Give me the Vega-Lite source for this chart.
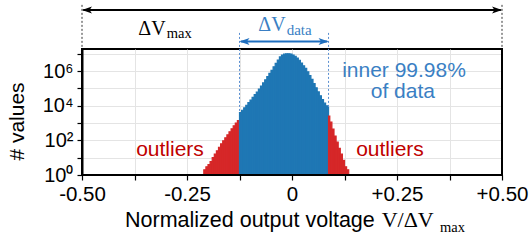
{
  "$schema": "https://vega.github.io/schema/vega-lite/v6.json",
  "width": 420,
  "height": 126,
  "autosize": {"type": "none"},
  "padding": {"left": 82, "top": 49, "right": 28, "bottom": 66},
  "config": {
    "view": {"stroke": "black", "strokeWidth": 2},
    "font": "Liberation Sans"
  },
  "resolve": {"axis": {"x": "independent", "y": "independent"}},
  "layer": [
    {
      "data": {"values": [
        {"lo": -0.210, "hi": -0.205, "n": 2, "part": "outlier"},
        {"lo": -0.205, "hi": -0.200, "n": 3, "part": "outlier"},
        {"lo": -0.200, "hi": -0.195, "n": 4, "part": "outlier"},
        {"lo": -0.195, "hi": -0.190, "n": 6, "part": "outlier"},
        {"lo": -0.190, "hi": -0.185, "n": 10, "part": "outlier"},
        {"lo": -0.185, "hi": -0.180, "n": 16, "part": "outlier"},
        {"lo": -0.180, "hi": -0.175, "n": 25, "part": "outlier"},
        {"lo": -0.175, "hi": -0.170, "n": 40, "part": "outlier"},
        {"lo": -0.170, "hi": -0.165, "n": 63, "part": "outlier"},
        {"lo": -0.165, "hi": -0.160, "n": 95, "part": "outlier"},
        {"lo": -0.160, "hi": -0.155, "n": 141, "part": "outlier"},
        {"lo": -0.155, "hi": -0.150, "n": 209, "part": "outlier"},
        {"lo": -0.150, "hi": -0.145, "n": 316, "part": "outlier"},
        {"lo": -0.145, "hi": -0.140, "n": 468, "part": "outlier"},
        {"lo": -0.140, "hi": -0.135, "n": 692, "part": "outlier"},
        {"lo": -0.135, "hi": -0.130, "n": 1000, "part": "outlier"},
        {"lo": -0.130, "hi": -0.125, "n": 1413, "part": "outlier"},
        {"lo": -0.125, "hi": -0.120, "n": 3981, "part": "inner"},
        {"lo": -0.120, "hi": -0.115, "n": 5495, "part": "inner"},
        {"lo": -0.115, "hi": -0.110, "n": 7586, "part": "inner"},
        {"lo": -0.110, "hi": -0.105, "n": 10715, "part": "inner"},
        {"lo": -0.105, "hi": -0.100, "n": 15136, "part": "inner"},
        {"lo": -0.100, "hi": -0.095, "n": 21380, "part": "inner"},
        {"lo": -0.095, "hi": -0.090, "n": 30903, "part": "inner"},
        {"lo": -0.090, "hi": -0.085, "n": 43652, "part": "inner"},
        {"lo": -0.085, "hi": -0.080, "n": 61660, "part": "inner"},
        {"lo": -0.080, "hi": -0.075, "n": 91201, "part": "inner"},
        {"lo": -0.075, "hi": -0.070, "n": 138038, "part": "inner"},
        {"lo": -0.070, "hi": -0.065, "n": 208930, "part": "inner"},
        {"lo": -0.065, "hi": -0.060, "n": 316228, "part": "inner"},
        {"lo": -0.060, "hi": -0.055, "n": 478630, "part": "inner"},
        {"lo": -0.055, "hi": -0.050, "n": 741310, "part": "inner"},
        {"lo": -0.050, "hi": -0.045, "n": 1122018, "part": "inner"},
        {"lo": -0.045, "hi": -0.040, "n": 1778279, "part": "inner"},
        {"lo": -0.040, "hi": -0.035, "n": 2818383, "part": "inner"},
        {"lo": -0.035, "hi": -0.030, "n": 4365158, "part": "inner"},
        {"lo": -0.030, "hi": -0.025, "n": 6606934, "part": "inner"},
        {"lo": -0.025, "hi": -0.020, "n": 8511380, "part": "inner"},
        {"lo": -0.020, "hi": -0.015, "n": 9549926, "part": "inner"},
        {"lo": -0.015, "hi": -0.010, "n": 10000000, "part": "inner"},
        {"lo": -0.010, "hi": -0.005, "n": 10000000, "part": "inner"},
        {"lo": -0.005, "hi": 0.000, "n": 9549926, "part": "inner"},
        {"lo": 0.000, "hi": 0.005, "n": 8511380, "part": "inner"},
        {"lo": 0.005, "hi": 0.010, "n": 7244360, "part": "inner"},
        {"lo": 0.010, "hi": 0.015, "n": 5754399, "part": "inner"},
        {"lo": 0.015, "hi": 0.020, "n": 4265795, "part": "inner"},
        {"lo": 0.020, "hi": 0.025, "n": 2951209, "part": "inner"},
        {"lo": 0.025, "hi": 0.030, "n": 2041738, "part": "inner"},
        {"lo": 0.030, "hi": 0.035, "n": 1445440, "part": "inner"},
        {"lo": 0.035, "hi": 0.040, "n": 912011, "part": "inner"},
        {"lo": 0.040, "hi": 0.045, "n": 562341, "part": "inner"},
        {"lo": 0.045, "hi": 0.050, "n": 338844, "part": "inner"},
        {"lo": 0.050, "hi": 0.055, "n": 190546, "part": "inner"},
        {"lo": 0.055, "hi": 0.060, "n": 109648, "part": "inner"},
        {"lo": 0.060, "hi": 0.065, "n": 63096, "part": "inner"},
        {"lo": 0.065, "hi": 0.070, "n": 38019, "part": "inner"},
        {"lo": 0.070, "hi": 0.075, "n": 22387, "part": "inner"},
        {"lo": 0.075, "hi": 0.080, "n": 14125, "part": "inner"},
        {"lo": 0.080, "hi": 0.085, "n": 10000, "part": "inner"},
        {"lo": 0.085, "hi": 0.087, "n": 7943, "part": "inner"},
        {"lo": 0.087, "hi": 0.090, "n": 2512, "part": "outlier"},
        {"lo": 0.090, "hi": 0.095, "n": 1122, "part": "outlier"},
        {"lo": 0.095, "hi": 0.100, "n": 447, "part": "outlier"},
        {"lo": 0.100, "hi": 0.105, "n": 178, "part": "outlier"},
        {"lo": 0.105, "hi": 0.110, "n": 79, "part": "outlier"},
        {"lo": 0.110, "hi": 0.115, "n": 35, "part": "outlier"},
        {"lo": 0.115, "hi": 0.120, "n": 16, "part": "outlier"},
        {"lo": 0.120, "hi": 0.125, "n": 7, "part": "outlier"},
        {"lo": 0.125, "hi": 0.130, "n": 3, "part": "outlier"},
        {"lo": 0.130, "hi": 0.135, "n": 2, "part": "outlier"}
      ]},
      "mark": {"type": "bar", "strokeWidth": 1.2},
      "encoding": {
        "x": {
          "field": "lo", "type": "quantitative",
          "scale": {"type": "linear", "domain": [-0.5, 0.5], "nice": false, "zero": false},
          "axis": {
            "orient": "bottom",
            "values": [-0.5, -0.375, -0.25, -0.125, 0, 0.125, 0.25, 0.375, 0.5],
            "labelExpr": "abs((datum.value * 8) % 2) > 0.5 ? '' : (datum.value == 0 ? '0' : (datum.value > 0 ? '+' + format(datum.value, '.2f') : '-' + format(-datum.value, '.2f')))",
            "title": null,
            "grid": true, "gridColor": "#e4e4e4", "gridWidth": 1,
            "gridOpacity": {"condition": {"test": "abs(datum.value) > 0.49", "value": 0}, "value": 1},
            "domain": false,
            "ticks": true, "tickColor": "black", "tickSize": 5, "tickWidth": 1.2,
            "labelFont": "Liberation Sans", "labelFontSize": 20.5, "labelColor": "black", "labelPadding": 4,
            "labelFlush": false, "labelOverlap": false
          }
        },
        "x2": {"field": "hi"},
        "y": {
          "field": "n", "type": "quantitative",
          "scale": {"type": "log", "domain": [1, 19054607], "nice": false},
          "axis": {
            "orient": "left",
            "values": [1, 10, 100, 1000, 10000, 100000, 1000000, 10000000],
            "labelExpr": "datum.value == 1 ? '10⁰' : datum.value == 100 ? '10²' : datum.value == 10000 ? '10⁴' : datum.value == 1000000 ? '10⁶' : ''",
            "title": "# values",
            "titleFont": "Liberation Sans", "titleFontSize": 21, "titleFontWeight": "normal", "titleColor": "black", "titlePadding": 15,
            "titleY": 72,
            "grid": true, "gridColor": "#e4e4e4", "gridWidth": 1,
            "gridOpacity": {"condition": {"test": "datum.value < 2", "value": 0}, "value": 1},
            "domain": true, "domainColor": "black", "domainWidth": 2,
            "ticks": true, "tickColor": "black", "tickSize": 5, "tickWidth": 1.2,
            "labelFont": "Liberation Sans", "labelFontSize": 20, "labelColor": "black", "labelPadding": 4,
            "labelFlush": false, "labelOverlap": false
          }
        },
        "y2": {"datum": 1},
        "color": {"field": "part", "type": "nominal", "scale": {"domain": ["inner", "outlier"], "range": ["#1f77b4", "#d62728"]}, "legend": null},
        "stroke": {"field": "part", "type": "nominal", "scale": {"domain": ["inner", "outlier"], "range": ["#1f77b4", "#d62728"]}, "legend": null}
      }
    },
    {
      "data": {"values": [{}]},
      "mark": {"type": "rule", "color": "#5b8fd0", "strokeWidth": 1, "strokeDash": [2, 2]},
      "encoding": {
        "x": {"datum": -0.125, "type": "quantitative", "axis": null},
        "y": {"datum": 162000000, "type": "quantitative", "axis": null},
        "y2": {"datum": 3981}
      }
    },
    {
      "data": {"values": [{}]},
      "mark": {"type": "rule", "color": "#5b8fd0", "strokeWidth": 1, "strokeDash": [2, 2]},
      "encoding": {
        "x": {"datum": 0.087, "type": "quantitative", "axis": null},
        "y": {"datum": 162000000, "type": "quantitative", "axis": null},
        "y2": {"datum": 7943}
      }
    },
    {
      "data": {"values": [{}]},
      "mark": {"type": "rule", "color": "black", "strokeWidth": 2},
      "encoding": {
        "x": {"datum": -0.5, "type": "quantitative", "axis": null},
        "x2": {"datum": 0.5},
        "y": {"datum": 1, "type": "quantitative", "axis": null}
      }
    },
    {
      "data": {"values": [{}]},
      "mark": {"type": "rule", "color": "black", "strokeWidth": 2},
      "encoding": {
        "x": {"datum": 0.5, "type": "quantitative", "axis": null},
        "y": {"datum": 1, "type": "quantitative", "axis": null},
        "y2": {"datum": 19054607}
      }
    },
    {
      "data": {"values": [{}]},
      "mark": {"type": "rule", "color": "black", "strokeWidth": 0.8, "strokeDash": [2, 2]},
      "encoding": {
        "x": {"datum": -0.5, "type": "quantitative", "axis": null},
        "y": {"datum": 6760000000, "type": "quantitative", "axis": null},
        "y2": {"datum": 19054607}
      }
    },
    {
      "data": {"values": [{}]},
      "mark": {"type": "rule", "color": "black", "strokeWidth": 0.8, "strokeDash": [2, 2]},
      "encoding": {
        "x": {"datum": 0.5, "type": "quantitative", "axis": null},
        "y": {"datum": 6760000000, "type": "quantitative", "axis": null},
        "y2": {"datum": 19054607}
      }
    },
    {
      "data": {"values": [{}]},
      "mark": {"type": "rule", "color": "black", "strokeWidth": 2},
      "encoding": {
        "x": {"datum": -0.497, "type": "quantitative", "axis": null},
        "x2": {"datum": 0.497},
        "y": {"datum": 3467000000, "type": "quantitative", "axis": null}
      }
    },
    {
      "data": {"values": [{}]},
      "mark": {"type": "point", "shape": "M0,0L2,-0.7L1.5,0L2,0.7Z", "size": 100, "filled": true, "color": "black", "opacity": 1},
      "encoding": {
        "x": {"datum": -0.5, "type": "quantitative", "axis": null},
        "y": {"datum": 3467000000, "type": "quantitative", "axis": null}
      }
    },
    {
      "data": {"values": [{}]},
      "mark": {"type": "point", "shape": "M0,0L-2,-0.7L-1.5,0L-2,0.7Z", "size": 100, "filled": true, "color": "black", "opacity": 1},
      "encoding": {
        "x": {"datum": 0.5, "type": "quantitative", "axis": null},
        "y": {"datum": 3467000000, "type": "quantitative", "axis": null}
      }
    },
    {
      "data": {"values": [{}]},
      "mark": {"type": "rule", "color": "#1f6fbf", "strokeWidth": 2},
      "encoding": {
        "x": {"datum": -0.122, "type": "quantitative", "axis": null},
        "x2": {"datum": 0.084},
        "y": {"datum": 52500000, "type": "quantitative", "axis": null}
      }
    },
    {
      "data": {"values": [{}]},
      "mark": {"type": "point", "shape": "M0,0L2,-0.7L1.5,0L2,0.7Z", "size": 100, "filled": true, "color": "#1f6fbf", "opacity": 1},
      "encoding": {
        "x": {"datum": -0.125, "type": "quantitative", "axis": null},
        "y": {"datum": 52500000, "type": "quantitative", "axis": null}
      }
    },
    {
      "data": {"values": [{}]},
      "mark": {"type": "point", "shape": "M0,0L-2,-0.7L-1.5,0L-2,0.7Z", "size": 100, "filled": true, "color": "#1f6fbf", "opacity": 1},
      "encoding": {
        "x": {"datum": 0.087, "type": "quantitative", "axis": null},
        "y": {"datum": 52500000, "type": "quantitative", "axis": null}
      }
    },
    {
      "data": {"values": [{}]},
      "mark": {"type": "text", "text": "ΔV", "font": "Liberation Serif", "fontSize": 20, "align": "left", "baseline": "alphabetic", "color": "black"},
      "encoding": {
        "x": {"datum": -0.366, "type": "quantitative", "axis": null},
        "y": {"datum": 123000000, "type": "quantitative", "axis": null}
      }
    },
    {
      "data": {"values": [{}]},
      "mark": {"type": "text", "text": "max", "font": "Liberation Serif", "fontSize": 14.5, "align": "left", "baseline": "alphabetic", "color": "black"},
      "encoding": {
        "x": {"datum": -0.298, "type": "quantitative", "axis": null},
        "y": {"datum": 79400000, "type": "quantitative", "axis": null}
      }
    },
    {
      "data": {"values": [{}]},
      "mark": {"type": "text", "text": "ΔV", "font": "Liberation Serif", "fontSize": 20, "align": "left", "baseline": "alphabetic", "color": "#3a7fc4"},
      "encoding": {
        "x": {"datum": -0.0802, "type": "quantitative", "axis": null},
        "y": {"datum": 209000000, "type": "quantitative", "axis": null}
      }
    },
    {
      "data": {"values": [{}]},
      "mark": {"type": "text", "text": "data", "font": "Liberation Serif", "fontSize": 15, "align": "left", "baseline": "alphabetic", "color": "#3a7fc4"},
      "encoding": {
        "x": {"datum": -0.0126, "type": "quantitative", "axis": null},
        "y": {"datum": 123000000, "type": "quantitative", "axis": null}
      }
    },
    {
      "data": {"values": [{}]},
      "mark": {"type": "text", "text": "inner 99.98%", "fontSize": 21, "align": "center", "baseline": "alphabetic", "color": "#3a7fc4"},
      "encoding": {
        "x": {"datum": 0.2667, "type": "quantitative", "axis": null},
        "y": {"datum": 478630, "type": "quantitative", "axis": null}
      }
    },
    {
      "data": {"values": [{}]},
      "mark": {"type": "text", "text": "of data", "fontSize": 21, "align": "center", "baseline": "alphabetic", "color": "#3a7fc4"},
      "encoding": {
        "x": {"datum": 0.264, "type": "quantitative", "axis": null},
        "y": {"datum": 26915, "type": "quantitative", "axis": null}
      }
    },
    {
      "data": {"values": [{}]},
      "mark": {"type": "text", "text": "outliers", "fontSize": 21, "align": "center", "baseline": "alphabetic", "color": "#c00000"},
      "encoding": {
        "x": {"datum": -0.2905, "type": "quantitative", "axis": null},
        "y": {"datum": 12.6, "type": "quantitative", "axis": null}
      }
    },
    {
      "data": {"values": [{}]},
      "mark": {"type": "text", "text": "outliers", "fontSize": 21, "align": "center", "baseline": "alphabetic", "color": "#c00000"},
      "encoding": {
        "x": {"datum": 0.2333, "type": "quantitative", "axis": null},
        "y": {"datum": 12.6, "type": "quantitative", "axis": null}
      }
    },
    {
      "data": {"values": [{}]},
      "mark": {"type": "text", "text": "Normalized output voltage", "fontSize": 21.5, "align": "left", "baseline": "alphabetic", "color": "black"},
      "encoding": {
        "x": {"datum": -0.3976, "type": "quantitative", "axis": null},
        "y": {"datum": 0.00102, "type": "quantitative", "axis": null}
      }
    },
    {
      "data": {"values": [{}]},
      "mark": {"type": "text", "text": "V/ΔV", "font": "Liberation Serif", "fontSize": 22, "align": "left", "baseline": "alphabetic", "color": "black"},
      "encoding": {
        "x": {"datum": 0.2136, "type": "quantitative", "axis": null},
        "y": {"datum": 0.00102, "type": "quantitative", "axis": null}
      }
    },
    {
      "data": {"values": [{}]},
      "mark": {"type": "text", "text": "max", "font": "Liberation Serif", "fontSize": 14.5, "align": "left", "baseline": "alphabetic", "color": "black"},
      "encoding": {
        "x": {"datum": 0.3524, "type": "quantitative", "axis": null},
        "y": {"datum": 0.00049, "type": "quantitative", "axis": null}
      }
    }
  ]
}
